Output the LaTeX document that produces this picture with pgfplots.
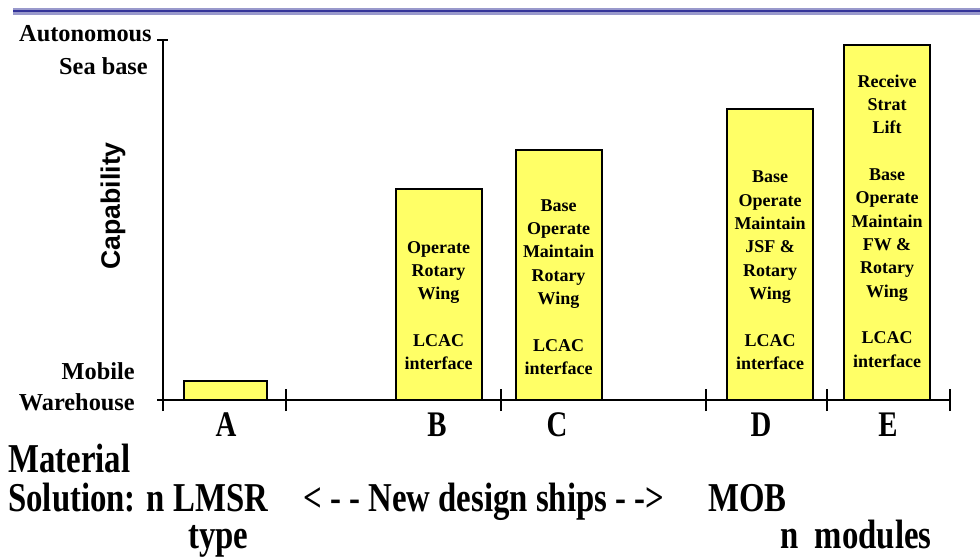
\documentclass[border=0pt]{standalone}
\usepackage{pgfplots}
\pgfplotsset{compat=1.18}
\usepackage{fontspec}
\setmainfont{Liberation Serif}
\setsansfont{Liberation Sans}
\newfontfamily\condfont{Liberation Serif}[FakeStretch=0.8]
\definecolor{baryellow}{HTML}{FFFF66}
\definecolor{darkblue}{HTML}{333399}
\definecolor{lightblue}{HTML}{9999CC}
\begin{document}
\begin{tikzpicture}
\useasboundingbox (-122.25pt,-117.75pt) rectangle (612.75pt,300pt);
\fill[lightblue] (-112.5pt,288.975pt) rectangle (612.75pt,294pt);
\fill[darkblue] (-112.5pt,291pt) rectangle (612.75pt,292.6pt);
\begin{axis}[
  at={(0pt,0pt)}, anchor=south west,
  scale only axis, width=590.25pt, height=270pt,
  xmin=0, xmax=787, ymin=0, ymax=100,
  axis x line*=bottom, axis y line*=left,
  axis line style={-, line width=1.5pt, black},
  xtick={0,123,338,543,664,787}, xticklabels={},
  ytick=\empty,
  tick align=center,
  major tick length=16.5pt,
  tick style={line width=1.5pt, black},
  extra x ticks={63,274,394,598,725},
  extra x tick labels={A,B,C,D,E},
  extra x tick style={major tick length=0pt, tick label style={font=\condfont\bfseries\fontsize{27}{27}\selectfont, anchor=base, yshift=-27pt}},
  extra y ticks={0,100},
  extra y tick labels={},
  extra y tick style={major tick length=8.25pt},
  ylabel={Capability},
  ylabel style={font=\sffamily\bfseries\fontsize{20}{20}\selectfont, at={(axis description cs:-0.0635,0.539)}, anchor=center},
  clip=false,
]
\addplot[ybar, bar width=82, bar shift=0pt, fill=baryellow, draw=black, line width=1.5pt] coordinates {(62.5,5.3)};
\addplot[ybar, bar width=86, bar shift=0pt, fill=baryellow, draw=black, line width=1.5pt] coordinates {(275.5,58.6) (395.5,69.4) (607,80.8) (724,98.5)};
\node[anchor=base east, inner sep=0pt, font=\bfseries\fontsize{18.25}{18.25}\selectfont] at ([xshift=-8.25pt]axis cs:0,99.5) {Autonomous};
\node[anchor=base east, inner sep=0pt, font=\bfseries\fontsize{18.25}{18.25}\selectfont] at ([xshift=-11.25pt]axis cs:0,90.3) {Sea base};
\node[anchor=base east, inner sep=0pt, font=\bfseries\fontsize{18.25}{18.25}\selectfont] at ([xshift=-21pt]axis cs:0,5.56) {Mobile};
\node[anchor=base east, inner sep=0pt, font=\bfseries\fontsize{18.25}{18.25}\selectfont] at ([xshift=-21pt]axis cs:0,-2.78) {Warehouse};
\node[align=center, inner sep=0pt, font=\bfseries\fontsize{13.5}{17.5}\selectfont] at (axis cs:275.5,26.25) {Operate\\Rotary\\Wing\\[17.5pt]LCAC\\interface};
\node[align=center, inner sep=0pt, font=\bfseries\fontsize{13.5}{17.5}\selectfont] at (axis cs:395.5,31.4) {Base\\Operate\\Maintain\\Rotary\\Wing\\[17.5pt]LCAC\\interface};
\node[align=center, inner sep=0pt, font=\bfseries\fontsize{13.5}{17.5}\selectfont] at (axis cs:607,36.0) {Base\\Operate\\Maintain\\JSF \&\\Rotary\\Wing\\[17.5pt]LCAC\\interface};
\node[align=center, inner sep=0pt, font=\bfseries\fontsize{13.5}{17.5}\selectfont] at (axis cs:724,49.7) {Receive\\Strat\\Lift\\[17.5pt]Base\\Operate\\Maintain\\FW \&\\Rotary\\Wing\\[17.5pt]LCAC\\interface};
\end{axis}
\begin{scope}[every node/.style={anchor=base west, inner sep=0pt, font=\condfont\bfseries\fontsize{30.75}{30.75}\selectfont}]
\node at (-116.25pt,-54pt) {Material};
\node at (-116.25pt,-83.25pt) {Solution: n LMSR};
\node at (105pt,-83.25pt) {< - - New design ships - ->};
\node at (408.75pt,-83.25pt) {MOB};
\node at (18.75pt,-111pt) {type};
\node at (462.75pt,-111pt) {n\ \ modules};
\end{scope}
\end{tikzpicture}
\end{document}
